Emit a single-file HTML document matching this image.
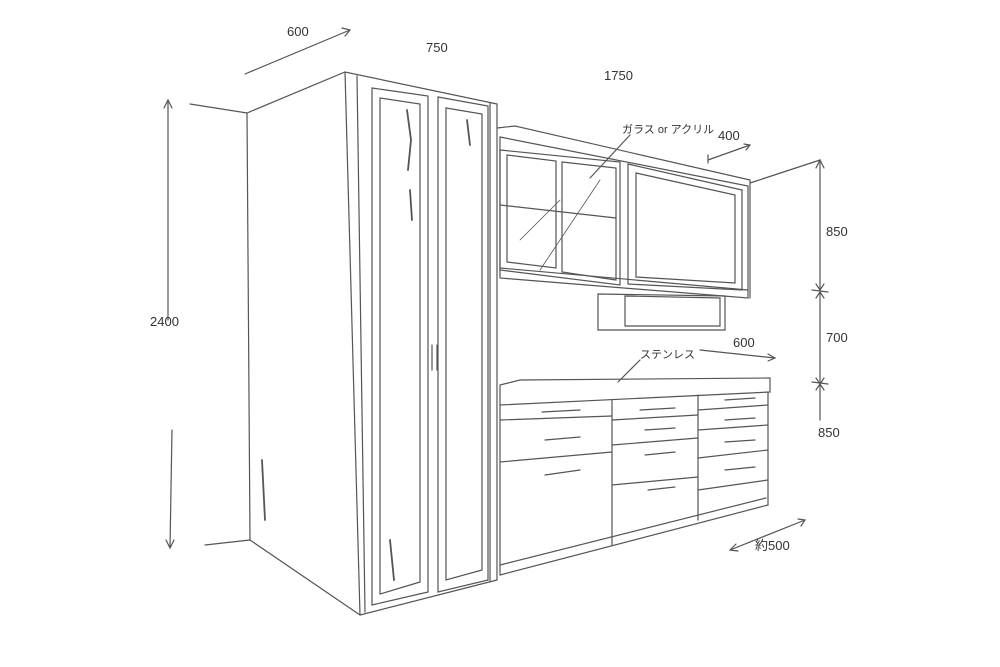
<!DOCTYPE html>
<html><head><meta charset="utf-8"><style>
html,body{margin:0;padding:0;background:#fff;}
svg{display:block}
text{font-family:"Liberation Sans","Noto Sans CJK JP",sans-serif;fill:#333;}
</style></head><body>
<svg width="1000" height="667" viewBox="0 0 1000 667" xmlns="http://www.w3.org/2000/svg">
<g fill="none" stroke="#555" stroke-width="1.2" stroke-linecap="round">
<!-- tall cabinet -->
<polyline points="190,104 247,113 345,72 497,104"/>
<line x1="247" y1="113" x2="250" y2="540"/>
<line x1="250" y1="540" x2="360" y2="615"/>
<line x1="360" y1="615" x2="497" y2="580"/>
<line x1="345" y1="72" x2="360" y2="615"/>
<line x1="357" y1="76" x2="365" y2="612"/>
<line x1="497" y1="104" x2="497" y2="580"/>
<line x1="490" y1="103" x2="490" y2="582"/>
<line x1="205" y1="545" x2="250" y2="540"/>
<!-- doors -->
<polygon points="372,88 428,96 428,592 372,605"/>
<polygon points="380,98 420,104 420,582 380,594"/>
<polygon points="438,97 488,106 488,580 438,592"/>
<polygon points="446,108 482,114 482,570 446,580"/>
<line x1="432" y1="345" x2="432" y2="370"/>
<line x1="437" y1="345" x2="437" y2="370"/>
<path d="M407,110 l4,30 l-3,30 M467,120 l3,25 M410,190 l2,30 M390,540 l4,40 M262,460 l3,60" stroke-width="1.8"/>
<!-- upper cabinet -->
<polyline points="497,128 515,126 750,180 750,298"/>
<polygon points="500,137 748,186 748,298 500,278"/>
<line x1="500" y1="268" x2="748" y2="290"/>
<polygon points="500,150 620,162 620,285 500,270"/>
<polygon points="507,155 556,161 556,268 507,262"/>
<polygon points="562,162 616,168 616,280 562,272"/>
<line x1="500" y1="205" x2="616" y2="218"/>
<polygon points="628,164 742,190 742,290 628,284"/>
<polygon points="636,173 735,195 735,283 636,277"/>
<line x1="540" y1="270" x2="600" y2="180" stroke-width="0.8"/>
<line x1="520" y1="240" x2="560" y2="200" stroke-width="0.8"/>
<!-- hood -->
<polygon points="598,294 725,296 725,330 598,330"/>
<polygon points="625,296 720,298 720,326 625,326"/>
<!-- counter -->
<polygon points="500,385 520,380 770,378 770,392 500,405"/>
<line x1="500" y1="405" x2="500" y2="575"/>
<line x1="768" y1="392" x2="768" y2="505"/>
<line x1="500" y1="575" x2="768" y2="505"/>
<line x1="500" y1="565" x2="766" y2="498"/>
<line x1="612" y1="400" x2="612" y2="545"/>
<line x1="698" y1="395" x2="698" y2="520"/>
<polyline points="500,420 612,416"/><polyline points="500,462 612,452"/>
<polyline points="612,420 698,415"/><polyline points="612,445 698,438"/><polyline points="612,485 698,477"/>
<polyline points="698,410 768,405"/><polyline points="698,430 768,425"/><polyline points="698,458 768,450"/><polyline points="698,490 768,480"/>
<line x1="542" y1="412" x2="580" y2="410"/><line x1="545" y1="440" x2="580" y2="437"/><line x1="545" y1="475" x2="580" y2="470"/>
<line x1="640" y1="410" x2="675" y2="408"/><line x1="645" y1="430" x2="675" y2="428"/><line x1="645" y1="455" x2="675" y2="452"/><line x1="648" y1="490" x2="675" y2="487"/>
<line x1="725" y1="400" x2="755" y2="398"/><line x1="725" y1="420" x2="755" y2="418"/><line x1="725" y1="442" x2="755" y2="440"/><line x1="725" y1="470" x2="755" y2="467"/>
<!-- wall line right -->
<polyline points="750,183 820,160"/>
<!-- dimensions -->
<line x1="168" y1="100" x2="168" y2="320"/><line x1="172" y1="430" x2="170" y2="548"/>
<path d="M164,108 l4,-8 l4,8 M166,540 l4,8 l4,-8"/>
<line x1="245" y1="74" x2="350" y2="30"/>
<path d="M342,28 l8,2 l-5,6"/>
<line x1="820" y1="160" x2="820" y2="420"/>
<path d="M816,168 l4,-8 l4,8 M816,284 l4,6 l4,-6 M816,298 l4,-6 l4,6 M816,378 l4,6 l4,-6 M816,390 l4,-6 l4,6"/>
<line x1="812" y1="290" x2="828" y2="292"/><line x1="812" y1="382" x2="828" y2="384"/>
<line x1="708" y1="160" x2="750" y2="145"/><line x1="708" y1="155" x2="708" y2="163"/>
<path d="M744,144 l6,1 l-4,5"/>
<line x1="700" y1="350" x2="775" y2="358"/>
<path d="M768,354 l7,4 l-7,3"/>
<line x1="730" y1="550" x2="805" y2="520"/>
<path d="M736,544 l-6,6 l8,1 M798,519 l7,1 l-4,6"/>
<line x1="630" y1="135" x2="590" y2="178"/>
<line x1="640" y1="360" x2="618" y2="382"/>
</g>
<g font-size="13">
<text x="287" y="36">600</text>
<text x="426" y="52">750</text>
<text x="604" y="80">1750</text>
<text x="622" y="133" font-size="11">ガラス or アクリル</text>
<text x="718" y="140">400</text>
<text x="826" y="236">850</text>
<text x="826" y="342">700</text>
<text x="818" y="437">850</text>
<text x="150" y="326">2400</text>
<text x="733" y="347">600</text>
<text x="640" y="358" font-size="11">ステンレス</text>
<text x="755" y="550">約500</text>
</g>
</svg>
</body></html>
